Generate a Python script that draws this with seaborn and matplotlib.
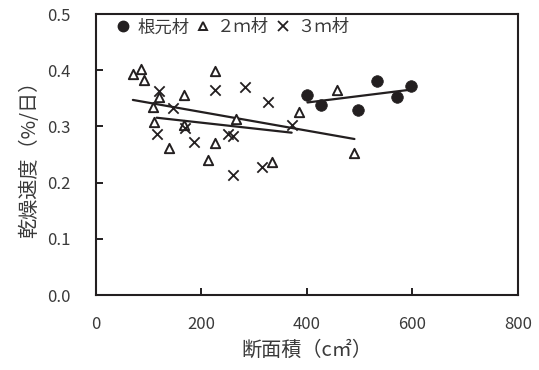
import numpy as np
import pandas as pd
import matplotlib
matplotlib.use("Agg")
import matplotlib.pyplot as plt
import seaborn as sns
from matplotlib.lines import Line2D

sns.set_theme(style="ticks")
plt.rcParams['font.family'] = ['Noto Sans CJK JP', 'DejaVu Sans']

# 根元材 (butt log)
base_x = [401, 426, 497, 533, 571, 597]
base_y = [0.356, 0.338, 0.329, 0.380, 0.353, 0.372]
# 2m材
m2_x = [70, 86, 91, 108, 110, 119, 166, 167, 226, 138, 225, 212, 266, 384, 456, 334, 490]
m2_y = [0.394, 0.403, 0.382, 0.334, 0.308, 0.353, 0.356, 0.302, 0.399, 0.261, 0.270, 0.241,
        0.313, 0.325, 0.364, 0.237, 0.253]
# 3m材
m3_x = [119, 147, 115, 168, 185, 225, 282, 250, 260, 260, 326, 371, 314]
m3_y = [0.363, 0.332, 0.286, 0.298, 0.272, 0.365, 0.370, 0.286, 0.283, 0.213, 0.344, 0.303, 0.228]

labels = ['根元材', '２ｍ材', '３ｍ材']
xticks = [0, 200, 400, 600, 800]
yticks = [0.0, 0.1, 0.2, 0.3, 0.4, 0.5]

dark = '#231f20'
textc = '#3a3a3a'

fig = plt.figure(figsize=(5.39, 3.70), dpi=100)
ax = fig.add_axes([0.178, 0.2027, 0.783, 0.7593])

df_b = pd.DataFrame({'x': base_x, 'y': base_y})
df_2 = pd.DataFrame({'x': m2_x, 'y': m2_y})
df_3 = pd.DataFrame({'x': m3_x, 'y': m3_y})

sns.scatterplot(data=df_b, x='x', y='y', ax=ax, marker='o', s=70, color=dark,
                edgecolor=dark, linewidth=0.5, zorder=3)
sns.scatterplot(data=df_2, x='x', y='y', ax=ax, marker='^', s=45, facecolor='white',
                edgecolor=dark, linewidth=1.4, zorder=3)
sns.scatterplot(data=df_3, x='x', y='y', ax=ax, marker='x', s=55, color=dark,
                linewidth=1.3, zorder=3)

for d in (df_b, df_2, df_3):
    sns.regplot(data=d, x='x', y='y', ax=ax, scatter=False, ci=None, truncate=True,
                line_kws={'color': dark, 'lw': 1.6, 'zorder': 2})

ax.set_xlim(0, 800)
ax.set_ylim(0, 0.5)
ax.set_xticks(xticks)
ax.set_yticks(yticks)
ax.set_xticklabels([str(t) for t in xticks])
ax.set_yticklabels([f'{t:.1f}' for t in yticks])
ax.tick_params(direction='in', length=5, width=1.4, color=dark, labelsize=12,
               labelcolor=textc)
ax.tick_params(axis='x', pad=15)
ax.tick_params(axis='y', pad=18)
for sp in ax.spines.values():
    sp.set_linewidth(1.5)
    sp.set_color(dark)
    sp.set_visible(True)

ax.set_xlabel('断面積（c㎡）', fontsize=14.5, color=textc, labelpad=5)
ax.set_ylabel('乾燥速度（%/日）', fontsize=14.5, color=textc, labelpad=5)

handles = [
    Line2D([], [], marker='o', ls='none', color=dark, markersize=7.5),
    Line2D([], [], marker='^', ls='none', markerfacecolor='white', markeredgecolor=dark,
           markeredgewidth=1.4, markersize=6),
    Line2D([], [], marker='x', ls='none', color=dark, markeredgewidth=1.3, markersize=7),
]
ax.legend(handles, labels, loc='upper left', ncol=3, frameon=False, fontsize=12.5,
          handletextpad=0.3, columnspacing=0.3, handlelength=1.0,
          borderpad=0, borderaxespad=0,
          bbox_to_anchor=(0.044, 0.985), labelcolor=textc)

fig.savefig('out.png', dpi=100)
